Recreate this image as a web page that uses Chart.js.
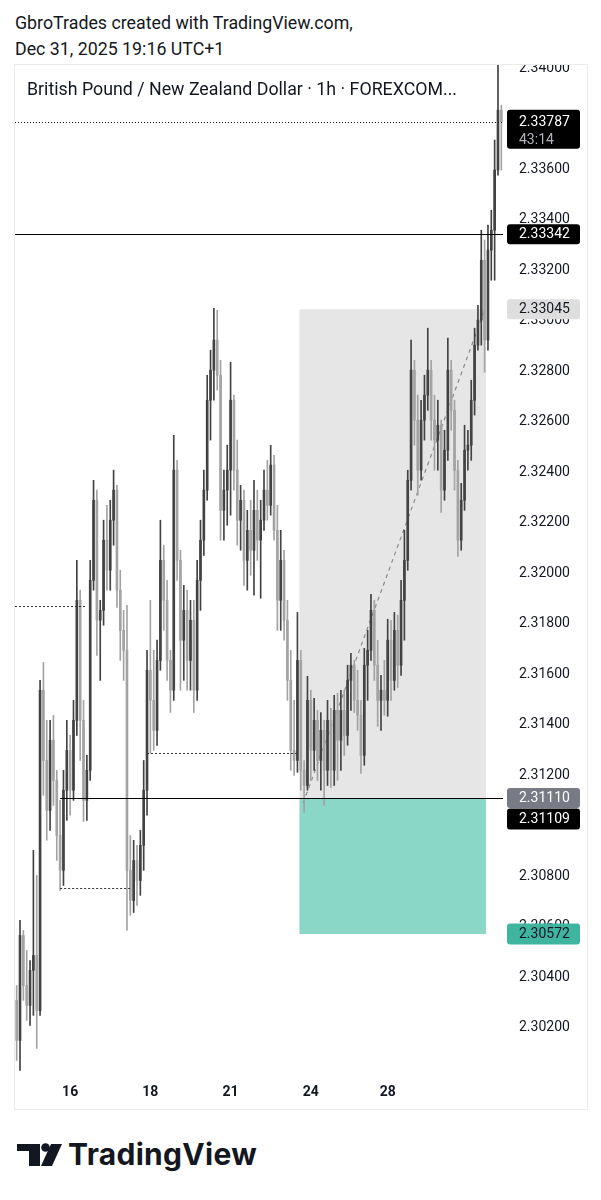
<!DOCTYPE html>
<html>
<head>
<meta charset="utf-8">
<script src="https://cdn.jsdelivr.net/npm/chart.js@4.4.1/dist/chart.umd.min.js"></script>
<style>
  body { margin: 0; background: #fff; font-family: Roboto, sans-serif; color: #131722; }
  #page { position: relative; width: 601px; height: 1200px; overflow: hidden; }
  .hdr { position: absolute; left: 15px; font-size: 17.8px; line-height: 22px; white-space: nowrap; }
  #frame { position: absolute; left: 14px; top: 64px; width: 574px; height: 1046px; border: 1px solid #ebebeb; box-sizing: border-box; }
  #box { position: absolute; left: 15px; top: 65px; width: 572px; height: 1043px; }
  #title { position: absolute; left: 27px; top: 78px; font-size: 17.8px; line-height: 21px; white-space: nowrap; }
  #logo { position: absolute; left: 0; top: 1130px; }
  #logoText { position: absolute; left: 68px; top: 1137px; font-family: Inter, Roboto, sans-serif; font-weight: 700; font-size: 30px; line-height: 34px; color: #131722; letter-spacing: 0.3px; }
</style>
</head>
<body>
<div id="page">
  <div class="hdr" style="top:12px">GbroTrades created with TradingView.com,</div>
  <div class="hdr" style="top:38px">Dec 31, 2025 19:16 UTC+1</div>
  <div id="frame"></div>
  <div id="box"><canvas id="chart" width="572" height="1043"></canvas></div>
  <div id="title">British Pound / New Zealand Dollar · 1h · FOREXCOM...</div>
  <svg id="logo" width="70" height="50">
    <rect x="17" y="14" width="23" height="7" fill="#131722"/>
    <rect x="29" y="14" width="11" height="22" fill="#131722"/>
    <circle cx="45.5" cy="17.5" r="4.3" fill="#131722"/>
    <polygon points="51,14 62,14 52,36 41,36" fill="#131722"/>
  </svg>
  <div id="logoText">TradingView</div>
</div>
<script>
// GBP/NZD 1h candles
const opens = [
  2.30309, 2.30151, 2.30566, 2.30368, 2.30289, 2.30428, 2.30487, 2.30269, 2.31537, 2.31259,
  2.31061, 2.31339, 2.31180, 2.30962, 2.30824, 2.31141, 2.31299, 2.31141, 2.31418, 2.31893,
  2.31418, 2.31101, 2.31220, 2.31972, 2.32289, 2.31814, 2.31853, 2.32131, 2.32012, 2.32210,
  2.32329, 2.31933, 2.31774, 2.31695, 2.30824, 2.30705, 2.30863, 2.30784, 2.30923, 2.31141,
  2.31616, 2.31497, 2.31378, 2.31655, 2.32051, 2.31893, 2.31655, 2.31537, 2.32408, 2.32051,
  2.31735, 2.31853, 2.31655, 2.31814, 2.31537, 2.31972, 2.32131, 2.32329, 2.32685, 2.32804,
  2.32923, 2.32784, 2.32249, 2.32329, 2.32408, 2.32685, 2.32408, 2.32210, 2.32289, 2.32051,
  2.32170, 2.32091, 2.32249, 2.32131, 2.32210, 2.32329, 2.32269, 2.32428, 2.32170, 2.31893,
  2.32051, 2.31814, 2.31576, 2.31299, 2.31259, 2.31655, 2.31220, 2.31160, 2.31497, 2.31299,
  2.31418, 2.31259, 2.31378, 2.31220, 2.31418, 2.31220, 2.31457, 2.31339, 2.31457, 2.31358,
  2.31576, 2.31636, 2.31497, 2.31438, 2.31279, 2.31636, 2.31695, 2.31853, 2.31636, 2.31497,
  2.31537, 2.31497, 2.31735, 2.31576, 2.31774, 2.31636, 2.31893, 2.32051, 2.32368, 2.32804,
  2.32606, 2.32408, 2.32606, 2.32705, 2.32804, 2.32606, 2.32527, 2.32586, 2.32329, 2.32487,
  2.32804, 2.32645, 2.32408, 2.32131, 2.32289, 2.32487, 2.32507, 2.32685, 2.32903, 2.33002,
  2.33239, 2.32923, 2.33279, 2.33358, 2.33596, 2.33833
];
const highs = [
  2.30368, 2.30626, 2.30586, 2.30507, 2.30467, 2.30903, 2.30804, 2.31576, 2.31647, 2.31418,
  2.31418, 2.31438, 2.31220, 2.31101, 2.31220, 2.31418, 2.31358, 2.31497, 2.32051, 2.31933,
  2.31497, 2.31279, 2.32051, 2.32368, 2.32329, 2.31893, 2.32210, 2.32269, 2.32289, 2.32408,
  2.32348, 2.32012, 2.31853, 2.31873, 2.30962, 2.30943, 2.30923, 2.30982, 2.31259, 2.31695,
  2.31893, 2.31695, 2.31735, 2.32210, 2.32111, 2.31972, 2.31695, 2.32546, 2.32447, 2.32091,
  2.31952, 2.31933, 2.31893, 2.31893, 2.32051, 2.32210, 2.32408, 2.32784, 2.32883, 2.33049,
  2.33041, 2.32843, 2.32408, 2.32507, 2.32835, 2.32705, 2.32527, 2.32348, 2.32329, 2.32249,
  2.32289, 2.32368, 2.32329, 2.32289, 2.32408, 2.32447, 2.32507, 2.32467, 2.32269, 2.32170,
  2.32091, 2.31893, 2.31695, 2.31497, 2.31845, 2.31695, 2.31259, 2.31592, 2.31537, 2.31505,
  2.31457, 2.31449, 2.31418, 2.31497, 2.31465, 2.31517, 2.31525, 2.31537, 2.31537, 2.31636,
  2.31683, 2.31655, 2.31616, 2.31497, 2.31703, 2.31774, 2.31917, 2.31893, 2.31735, 2.31596,
  2.31655, 2.31818, 2.31814, 2.31845, 2.31834, 2.31972, 2.32170, 2.32408, 2.32923, 2.32843,
  2.32705, 2.32685, 2.32784, 2.32970, 2.32843, 2.32705, 2.32685, 2.32606, 2.32566, 2.32931,
  2.32843, 2.32685, 2.32447, 2.32356, 2.32586, 2.32566, 2.32764, 2.32970, 2.33061, 2.33358,
  2.33319, 2.33378, 2.33437, 2.33715, 2.34023, 2.33853
];
const lows = [
  2.30071, 2.30032, 2.30309, 2.30230, 2.30210, 2.30250, 2.30119, 2.30250, 2.31121, 2.30943,
  2.30982, 2.31081, 2.30863, 2.30745, 2.30764, 2.31022, 2.31042, 2.31101, 2.31358, 2.31259,
  2.31018, 2.31022, 2.31180, 2.31933, 2.31675, 2.31576, 2.31794, 2.31933, 2.31933, 2.32111,
  2.31865, 2.31655, 2.31576, 2.30586, 2.30646, 2.30657, 2.30685, 2.30725, 2.30824, 2.31042,
  2.31287, 2.31299, 2.31319, 2.31616, 2.31774, 2.31576, 2.31449, 2.31497, 2.31972, 2.31537,
  2.31576, 2.31537, 2.31537, 2.31449, 2.31497, 2.31853, 2.32071, 2.32289, 2.32527, 2.32685,
  2.32725, 2.32131, 2.32131, 2.32190, 2.32230, 2.32329, 2.32111, 2.32091, 2.31952, 2.31933,
  2.31992, 2.31913, 2.32051, 2.31901, 2.32170, 2.32210, 2.32230, 2.32131, 2.31774, 2.31774,
  2.31735, 2.31497, 2.31220, 2.31200, 2.31212, 2.31141, 2.31053, 2.31141, 2.31180, 2.31220,
  2.31180, 2.31141, 2.31081, 2.31160, 2.31152, 2.31160, 2.31180, 2.31220, 2.31279, 2.31319,
  2.31457, 2.31449, 2.31378, 2.31208, 2.31240, 2.31497, 2.31655, 2.31576, 2.31394, 2.31378,
  2.31438, 2.31434, 2.31497, 2.31537, 2.31548, 2.31596, 2.31735, 2.32012, 2.32329, 2.32507,
  2.32309, 2.32368, 2.32527, 2.32645, 2.32527, 2.32408, 2.32408, 2.32241, 2.32289, 2.32447,
  2.32566, 2.32329, 2.32067, 2.32091, 2.32249, 2.32408, 2.32447, 2.32626, 2.32883, 2.32903,
  2.32796, 2.32883, 2.33160, 2.33160, 2.33576, 2.33596
];
const closes = [
  2.30151, 2.30566, 2.30368, 2.30289, 2.30428, 2.30487, 2.30269, 2.31537, 2.31259, 2.31061,
  2.31339, 2.31180, 2.30962, 2.30824, 2.31141, 2.31299, 2.31141, 2.31418, 2.31893, 2.31418,
  2.31101, 2.31220, 2.31972, 2.32289, 2.31814, 2.31853, 2.32131, 2.32012, 2.32210, 2.32329,
  2.31933, 2.31774, 2.31695, 2.30824, 2.30705, 2.30863, 2.30784, 2.30923, 2.31141, 2.31616,
  2.31497, 2.31378, 2.31655, 2.32051, 2.31893, 2.31655, 2.31537, 2.32408, 2.32051, 2.31735,
  2.31853, 2.31655, 2.31814, 2.31537, 2.31972, 2.32131, 2.32329, 2.32685, 2.32804, 2.32923,
  2.32784, 2.32249, 2.32329, 2.32408, 2.32685, 2.32408, 2.32210, 2.32289, 2.32051, 2.32170,
  2.32091, 2.32249, 2.32131, 2.32210, 2.32329, 2.32269, 2.32428, 2.32170, 2.31893, 2.32051,
  2.31814, 2.31576, 2.31299, 2.31259, 2.31655, 2.31220, 2.31160, 2.31497, 2.31299, 2.31418,
  2.31259, 2.31378, 2.31220, 2.31418, 2.31220, 2.31457, 2.31339, 2.31457, 2.31358, 2.31576,
  2.31636, 2.31497, 2.31438, 2.31279, 2.31636, 2.31695, 2.31853, 2.31636, 2.31497, 2.31537,
  2.31497, 2.31735, 2.31576, 2.31774, 2.31636, 2.31893, 2.32051, 2.32368, 2.32804, 2.32606,
  2.32408, 2.32606, 2.32705, 2.32804, 2.32606, 2.32527, 2.32586, 2.32329, 2.32487, 2.32804,
  2.32645, 2.32408, 2.32131, 2.32289, 2.32487, 2.32507, 2.32685, 2.32903, 2.33002, 2.33239,
  2.32923, 2.33279, 2.33358, 2.33596, 2.33833, 2.33787
];

// x-axis day labels and the candle they sit under
const dayTicks = ['16', '18', '21', '24', '28'];
const dayTickAt = [16, 40, 64, 88, 111];

// price scale ticks
const yTicks = [2.302, 2.304, 2.306, 2.308, 2.310, 2.312, 2.314, 2.316, 2.318, 2.320,
  2.322, 2.324, 2.326, 2.328, 2.330, 2.332, 2.334, 2.336, 2.338, 2.340];

// drawings on the chart
const lastPrice = 2.33787;
const countdown = '43:14';
const levelPrice = 2.33342;
const supportPrice = 2.31109;
const supportFrom = 13;
const dotted = [ // price, from candle, to candle
  [2.31869, -0.5, 21],
  [2.31287, 39, 84],
  [2.30753, 13, 34]
];
const entry = 2.31110, target = 2.33045, stop = 2.30572;
const posFrom = 84.6, posTo = 140.4;

const labels = opens.map((o, i) => {
  let k = dayTickAt.indexOf(i);
  return k >= 0 ? dayTicks[k] : '';
});
const upCol = '#424242', downCol = '#a3a3a3';
const colors = opens.map((o, i) => closes[i] > o ? upCol : downCol);

function tag(ctx, yc, h, bg, fg, text) {
  ctx.fillStyle = bg;
  ctx.beginPath();
  ctx.roundRect(492, yc - h / 2, 73, h, 3);
  ctx.fill();
  ctx.fillStyle = fg;
  ctx.font = '14px Roboto';
  ctx.textBaseline = 'middle';
  ctx.textAlign = 'left';
  ctx.fillText(text, 504, yc + 0.5);
}

const drawings = {
  id: 'drawings',
  beforeDatasetsDraw(chart) {
    const ctx = chart.ctx, x = chart.scales.x, y = chart.scales.y;
    const x0 = x.getPixelForValue(posFrom), x1 = x.getPixelForValue(posTo);
    ctx.save();
    ctx.fillStyle = '#e6e6e6';
    ctx.fillRect(x0, y.getPixelForValue(target), x1 - x0, y.getPixelForValue(entry) - y.getPixelForValue(target));
    ctx.fillStyle = '#8ad7c6';
    ctx.fillRect(x0, y.getPixelForValue(entry), x1 - x0, y.getPixelForValue(stop) - y.getPixelForValue(entry));
    ctx.strokeStyle = '#8c8c8c';
    ctx.lineWidth = 1.2;
    ctx.setLineDash([4, 4]);
    ctx.beginPath();
    ctx.moveTo(x.getPixelForValue(85.7), y.getPixelForValue(2.31090));
    ctx.lineTo(x.getPixelForValue(140.1), y.getPixelForValue(target));
    ctx.stroke();
    ctx.restore();
  },
  afterDatasetsDraw(chart) {
    const ctx = chart.ctx, x = chart.scales.x, y = chart.scales.y;
    const left = chart.chartArea.left, right = chart.chartArea.right;
    ctx.save();
    ctx.lineWidth = 1;
    ctx.strokeStyle = '#000';
    let py = Math.round(y.getPixelForValue(levelPrice)) + 0.5;
    ctx.beginPath(); ctx.moveTo(left, py); ctx.lineTo(right, py); ctx.stroke();
    py = Math.round(y.getPixelForValue(supportPrice)) + 0.5;
    ctx.beginPath(); ctx.moveTo(x.getPixelForValue(supportFrom), py); ctx.lineTo(right, py); ctx.stroke();
    ctx.setLineDash([2, 2]);
    ctx.strokeStyle = '#333';
    dotted.forEach(d => {
      let yy = Math.round(y.getPixelForValue(d[0])) + 0.5;
      ctx.beginPath(); ctx.moveTo(x.getPixelForValue(d[1]), yy); ctx.lineTo(x.getPixelForValue(d[2]), yy); ctx.stroke();
    });
    ctx.setLineDash([1, 2]);
    ctx.strokeStyle = '#131722';
    py = Math.round(y.getPixelForValue(lastPrice)) + 0.5;
    ctx.beginPath(); ctx.moveTo(left, py); ctx.lineTo(right, py); ctx.stroke();
    ctx.restore();
  },
  afterDraw(chart) {
    const ctx = chart.ctx, y = chart.scales.y;
    ctx.save();
    let yc = y.getPixelForValue(lastPrice);
    ctx.fillStyle = '#000';
    ctx.beginPath();
    ctx.roundRect(492, yc - 12, 73, 39, 3);
    ctx.fill();
    ctx.font = '14px Roboto';
    ctx.textBaseline = 'middle';
    ctx.fillStyle = '#fff';
    ctx.fillText(lastPrice.toFixed(5), 504, yc + 0.5);
    ctx.fillStyle = '#b2b5be';
    ctx.fillText(countdown, 504, yc + 18.5);
    tag(ctx, y.getPixelForValue(levelPrice), 20, '#000', '#fff', levelPrice.toFixed(5));
    tag(ctx, y.getPixelForValue(target), 20, '#dedede', '#131722', target.toFixed(5));
    tag(ctx, y.getPixelForValue(entry), 20, '#787b86', '#fff', entry.toFixed(5));
    tag(ctx, y.getPixelForValue(entry) + 21, 21, '#000', '#fff', supportPrice.toFixed(5));
    tag(ctx, y.getPixelForValue(stop), 21, '#3fb5a0', '#131722', stop.toFixed(5));
    ctx.restore();
  }
};

Chart.defaults.font.family = 'Roboto';

new Chart(document.getElementById('chart').getContext('2d'), {
  type: 'bar',
  data: {
    labels: labels,
    datasets: [
      {
        label: 'wick',
        data: lows.map((l, i) => [l, highs[i]]),
        backgroundColor: colors,
        barThickness: 1,
        grouped: false,
        order: 2
      },
      {
        label: 'body',
        data: opens.map((o, i) => [o, closes[i]]),
        backgroundColor: colors,
        barThickness: 2,
        minBarLength: 1,
        grouped: false,
        order: 1
      }
    ]
  },
  options: {
    responsive: false,
    animation: false,
    layout: { padding: 0 },
    plugins: { legend: { display: false }, tooltip: { enabled: false } },
    scales: {
      x: {
        grid: { display: false, drawTicks: false },
        border: { display: false },
        ticks: {
          autoSkip: false, maxRotation: 0, padding: 9,
          color: '#131722', font: { size: 14, weight: 'bold' }
        },
        afterFit: s => { s.height = 33; s.paddingLeft = 0; s.paddingRight = 0; }
      },
      y: {
        position: 'right',
        min: 2.300139,
        max: 2.340119,
        grid: { display: false, drawTicks: false },
        border: { display: false },
        afterBuildTicks: s => { s.ticks = yTicks.map(v => ({ value: v })); },
        ticks: {
          padding: 16, color: '#131722', font: { size: 14 },
          callback: v => v.toFixed(5)
        },
        afterFit: s => { s.width = 84; s.paddingTop = 0; s.paddingBottom = 0; }
      }
    }
  },
  plugins: [drawings]
});
</script>
</body>
</html>
